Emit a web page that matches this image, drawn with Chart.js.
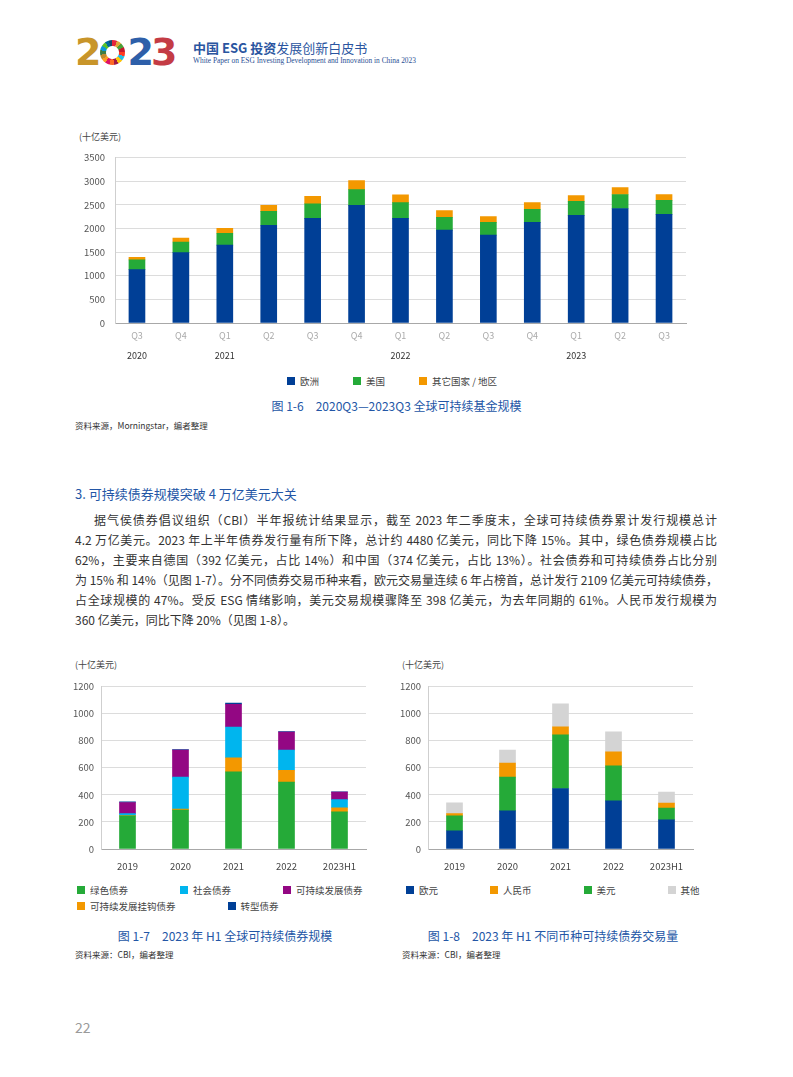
<!DOCTYPE html>
<html>
<head>
<meta charset="utf-8">
<script src="https://cdn.jsdelivr.net/npm/chart.js@4.4.1/dist/chart.umd.min.js"></script>
<style>
  body { margin: 0; background: #fff; font-family: "Noto Sans CJK SC", "Noto Sans", sans-serif; color: #333; }
  #page { position: relative; width: 793px; height: 1077px; overflow: hidden; }
  .abs { position: absolute; white-space: nowrap; }
  .unit { font-size: 9px; color: #444; }
  .caption { font-size: 12px; color: #2356a6; text-align: center; }
  .source { font-size: 8.5px; color: #333; }
  .legend { position: absolute; display: flex; flex-wrap: wrap; row-gap: 4px; font-size: 9.5px; color: #444; }
  .legend .item { display: flex; align-items: center; height: 12px; }
  .legend .box { width: 8px; height: 8px; margin-right: 5px; }
  .para { position: absolute; left: 75px; width: 642px; font-size: 12px; color: #333; }
  .para div { height: 20px; line-height: 20px; text-align: justify; text-align-last: justify; white-space: nowrap; }
  .para div.first { padding-left: 19px; }
  .para div.last { text-align-last: left; }
  .digit { font-weight: 900; font-family: "DejaVu Sans", sans-serif; font-size: 38px; line-height: 30px; letter-spacing: -3px; }
</style>
</head>
<body>
<div id="page">
  <!-- header -->
  <div class="abs" style="left:75px; top:37px; height:30px; display:flex; align-items:center;">
    <span class="digit" style="color:#c8952a;">2</span>
    <span style="display:inline-block; width:25px; height:25px; border-radius:50%; margin:0 2px;
      background: radial-gradient(circle, #fff 0 6px, transparent 7px),
      conic-gradient(#e5243b 0 6%, #dda63a 6% 12%, #4c9f38 12% 18%, #c5192d 18% 24%, #ff3a21 24% 30%, #26bde2 30% 36%, #fcc30b 36% 42%, #a21942 42% 48%, #fd6925 48% 54%, #dd1367 54% 60%, #fd9d24 60% 66%, #bf8b2e 66% 72%, #3f7e44 72% 78%, #0a97d9 78% 84%, #56c02b 84% 90%, #00689d 90% 95%, #19486a 95% 100%);"></span>
    <span class="digit" style="color:#2e5fa9;">2</span>
    <span class="digit" style="color:#c43c45;">3</span>
  </div>
  <div class="abs" style="left:193px; top:38px; font-size:13px; color:#2a55a0;"><b>中国 ESG 投资</b>发展创新白皮书</div>
  <div class="abs" style="left:193px; top:56px; font-size:7.4px; color:#2a4f94; font-family:'Liberation Serif', serif;">White Paper on ESG Investing Development and Innovation in China 2023</div>

  <!-- figure 1-6 -->
  <div class="abs unit" style="left:79px; top:130px;">(十亿美元)</div>
  <div class="abs" style="left:70px; top:142px; width:632px; height:223px;"><canvas id="fundChart"></canvas></div>
  <div class="legend" id="fundLegend" style="left:287px; top:375px; column-gap:34px;"></div>
  <div class="abs caption" style="left:0; width:793px; top:397px;">图 1-6　2020Q3—2023Q3 全球可持续基金规模</div>
  <div class="abs source" style="left:75px; top:419px;">资料来源，Morningstar，编者整理</div>

  <!-- text -->
  <div class="abs" style="left:75px; top:484px; font-size:13px; color:#2356a6;">3. 可持续债券规模突破 4 万亿美元大关</div>
  <div class="para" style="top:510px;">
    <div class="first">据气侯债券倡议组织（CBI）半年报统计结果显示，截至 2023 年二季度末，全球可持续债券累计发行规模总计</div>
    <div>4.2 万亿美元。2023 年上半年债券发行量有所下降，总计约 4480 亿美元，同比下降 15%。其中，绿色债券规模占比</div>
    <div>62%，主要来自德国（392 亿美元，占比 14%）和中国（374 亿美元，占比 13%）。社会债券和可持续债券占比分别</div>
    <div>为 15% 和 14%（见图 1-7）。分不同债券交易币种来看，欧元交易量连续 6 年占榜首，总计发行 2109 亿美元可持续债券，</div>
    <div>占全球规模的 47%。受反 ESG 情绪影响，美元交易规模骤降至 398 亿美元，为去年同期的 61%。人民币发行规模为</div>
    <div class="last">360 亿美元，同比下降 20%（见图 1-8）。</div>
  </div>

  <!-- figure 1-7 -->
  <div class="abs unit" style="left:75px; top:658px;">(十亿美元)</div>
  <div class="abs" style="left:60px; top:674px; width:320px; height:203px;"><canvas id="typeChart"></canvas></div>
  <div class="legend" id="typeLegend" style="left:77px; top:884px; width:305px; column-gap:52px;"></div>
  <div class="abs caption" style="left:75px; width:300px; top:927px;">图 1-7　2023 年 H1 全球可持续债券规模</div>
  <div class="abs source" style="left:75px; top:948px;">资料来源：CBI，编者整理</div>

  <!-- figure 1-8 -->
  <div class="abs unit" style="left:402px; top:658px;">(十亿美元)</div>
  <div class="abs" style="left:390px; top:674px; width:318px; height:203px;"><canvas id="currencyChart"></canvas></div>
  <div class="legend" id="currencyLegend" style="left:406px; top:884px; width:320px; column-gap:52px;"></div>
  <div class="abs caption" style="left:402px; width:302px; top:927px;">图 1-8　2023 年 H1 不同币种可持续债券交易量</div>
  <div class="abs source" style="left:402px; top:948px;">资料来源：CBI，编者整理</div>

  <div class="abs" style="left:75px; top:1017px; font-size:14px; color:#9a9a9a;">22</div>
</div>

<script>
// Figure 1-6: global sustainable fund assets by region (USD bn)
const quarters = ['Q3', 'Q4', 'Q1', 'Q2', 'Q3', 'Q4', 'Q1', 'Q2', 'Q3', 'Q4', 'Q1', 'Q2', 'Q3'];
const yearLabels = ['2020', '', '2021', '', '', '', '2022', '', '', '', '2023', '', ''];
const europe = [1130, 1490, 1650, 2070, 2215, 2490, 2215, 1965, 1860, 2130, 2280, 2425, 2300];
const usa = [205, 225, 250, 295, 310, 335, 335, 270, 270, 275, 295, 295, 295];
const otherRegions = [55, 85, 105, 125, 155, 190, 165, 145, 125, 145, 125, 145, 125];

// Figure 1-7: sustainable bond issuance by type (USD bn)
const bondYears = ['2019', '2020', '2021', '2022', '2023H1'];
const greenBonds = [245, 287, 570, 495, 274];
const linkedBonds = [3, 8, 105, 87, 31];
const socialBonds = [14, 237, 227, 150, 60];
const sustainabilityBonds = [82, 200, 168, 133, 56];
const transitionBonds = [5, 3, 9, 3, 2];

// Figure 1-8: sustainable bond volume by currency (USD bn)
const euroBonds = [135, 282, 447, 356, 215];
const usdBonds = [110, 250, 397, 259, 88];
const cnyBonds = [17, 104, 59, 103, 37];
const otherCurrency = [80, 96, 170, 148, 81];

const NAVY = '#003f96';
const GREEN = '#25aa38';
const ORANGE = '#f39800';
const CYAN = '#00b5ee';
const PURPLE = '#930783';
const GREY = '#d4d4d4';

const cjk = '"Noto Sans CJK SC", "Noto Sans", sans-serif';

function buildLegend(chart, id, order) {
    const box = document.getElementById(id);
    order.forEach(i => {
        const ds = chart.data.datasets[i];
        const item = document.createElement('div');
        item.className = 'item';
        item.innerHTML = '<span class="box" style="background:' + ds.backgroundColor + '"></span>' + ds.label;
        box.appendChild(item);
    });
}

const fundChart = new Chart(document.getElementById('fundChart').getContext('2d'), {
    type: 'bar',
    data: {
        labels: quarters,
        datasets: [
            { label: '欧洲', data: europe, backgroundColor: NAVY },
            { label: '美国', data: usa, backgroundColor: GREEN },
            { label: '其它国家 / 地区', data: otherRegions, backgroundColor: ORANGE }
        ]
    },
    options: {
        responsive: true,
        maintainAspectRatio: false,
        animation: false,
        barThickness: 16,
        layout: { padding: { right: 16 } },
        plugins: { legend: { display: false }, tooltip: { enabled: false } },
        scales: {
            x: {
                stacked: true,
                grid: { display: false, drawTicks: false },
                border: { color: '#a8a8a8' },
                ticks: { color: '#ababab', font: { size: 9, family: cjk }, padding: 7, maxRotation: 0 },
                afterFit: s => { s.height = 22; }
            },
            x2: {
                type: 'category',
                labels: yearLabels,
                position: 'bottom',
                grid: { display: false, drawTicks: false },
                border: { display: false },
                ticks: { color: '#333', font: { size: 9, family: cjk }, padding: 5, autoSkip: false, maxRotation: 0 },
                afterFit: s => { s.height = 20; }
            },
            y: {
                stacked: true,
                min: 0,
                max: 3500,
                ticks: { stepSize: 500, color: '#555', font: { size: 9.5, family: cjk }, padding: 10, callback: v => String(v) },
                grid: { color: '#dcdcdc', drawTicks: false },
                border: { color: '#cfcfcf' },
                afterFit: s => { s.width = 45; }
            }
        }
    }
});
buildLegend(fundChart, 'fundLegend', [0, 1, 2]);

function bondOptions(yWidth, rightPad) {
    return {
        responsive: true,
        maintainAspectRatio: false,
        animation: false,
        barThickness: 16,
        layout: { padding: { right: rightPad } },
        plugins: { legend: { display: false }, tooltip: { enabled: false } },
        scales: {
            x: {
                stacked: true,
                grid: { display: false, drawTicks: false },
                border: { color: '#a8a8a8' },
                ticks: { color: '#444', font: { size: 9.5, family: cjk }, padding: 12, maxRotation: 0 },
                afterFit: s => { s.height = 28; }
            },
            y: {
                stacked: true,
                min: 0,
                max: 1200,
                ticks: { stepSize: 200, color: '#555', font: { size: 9.5, family: cjk }, padding: 7, callback: v => String(v) },
                grid: { color: '#dcdcdc', drawTicks: false },
                border: { color: '#cfcfcf' },
                afterFit: s => { s.width = yWidth; }
            }
        }
    };
}

const typeChart = new Chart(document.getElementById('typeChart').getContext('2d'), {
    type: 'bar',
    data: {
        labels: bondYears,
        datasets: [
            { label: '绿色债券', data: greenBonds, backgroundColor: GREEN },
            { label: '可持续发展挂钩债券', data: linkedBonds, backgroundColor: ORANGE },
            { label: '社会债券', data: socialBonds, backgroundColor: CYAN },
            { label: '可持续发展债券', data: sustainabilityBonds, backgroundColor: PURPLE },
            { label: '转型债券', data: transitionBonds, backgroundColor: NAVY }
        ]
    },
    options: bondOptions(41, 14)
});
buildLegend(typeChart, 'typeLegend', [0, 2, 3, 1, 4]);

const currencyChart = new Chart(document.getElementById('currencyChart').getContext('2d'), {
    type: 'bar',
    data: {
        labels: bondYears,
        datasets: [
            { label: '欧元', data: euroBonds, backgroundColor: NAVY },
            { label: '美元', data: usdBonds, backgroundColor: GREEN },
            { label: '人民币', data: cnyBonds, backgroundColor: ORANGE },
            { label: '其他', data: otherCurrency, backgroundColor: GREY }
        ]
    },
    options: bondOptions(38, 15)
});
buildLegend(currencyChart, 'currencyLegend', [0, 2, 1, 3]);
</script>
</body>
</html>
